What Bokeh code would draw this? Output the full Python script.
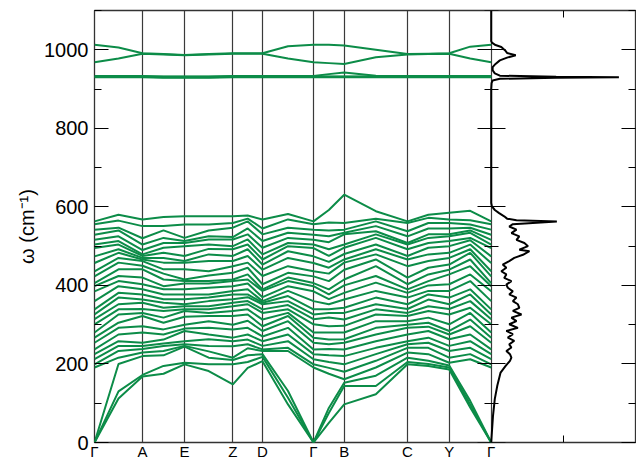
from bokeh.plotting import figure
from bokeh.models import Range1d, LinearAxis, FixedTicker, ColumnDataSource
from bokeh.embed import file_html
from bokeh.resources import INLINE

# ---------------- data ----------------
k_labels = ["Γ", "A", "E", "Z", "D", "Γ", "B", "C", "Y", "Γ"]
k_pos = [0, 48, 90, 138.4, 168, 219, 249.7, 313, 354.7, 396.7]

y_major = [0, 200, 400, 600, 800, 1000]
y_minor = [100, 300, 500, 700, 900, 1100]
y_labels = ["0", "200", "400", "600", "800", "1000"]

# frequencies (cm^-1) of the 30 lower bands at each sample (symmetry point, then mid-segment)
w_G  = [0,0,0,191,199,212,225,237,254,267,280,301,314,326,339,360,385,398,406,423,436,457,474,495,504,516,529,542,556,563]
w_GA = [112,130,200,216,233,246,258,275,292,305,326,339,352,369,381,398,411,424,441,458,470,483,492,504,513,525,540,547,565,580]
w_A  = [168,172,220,229,238,246,254,280,296,322,330,340,356,364,377,390,403,420,441,450,462,466,470,475,479,490,504,520,551,568]
w_AE = [175,195,222,233,246,252,262,275,288,305,318,335,343,356,365,377,390,398,415,430,441,458,470,483,496,508,521,540,551,574]
w_E  = [199,203,244,246,250,258,284,290,300,320,335,339,347,352,365,377,390,405,411,415,441,458,462,475,500,508,513,521,555,576]
w_EZ = [182,199,216,232,246,263,275,292,309,322,330,339,347,360,369,377,394,405,411,425,436,462,479,493,504,517,525,540,555,576]
w_Z  = [148,199,210,216,245,258,267,288,300,322,335,347,356,365,377,386,398,411,415,432,449,462,475,492,500,517,523,547,559,576]
w_ZD = [190,205,222,240,250,262,275,292,310,326,339,352,360,370,377,390,405,415,428,445,458,475,492,504,517,530,545,563,570,578]
w_D  = [207,218,225,233,237,246,258,270,284,296,313,330,339,352,356,360,370,386,390,403,424,440,453,466,479,496,513,530,545,568]
w_DG = [97,114,131,233,241,258,275,292,309,322,330,339,350,360,373,386,398,411,420,432,449,470,487,500,508,521,534,547,568,582]
w_GB = [50,75,88,175,190,205,222,238,250,262,280,296,318,330,339,352,365,377,390,411,430,445,460,475,492,510,525,540,560,592]
w_B  = [97,144,152,161,180,199,220,237,254,263,280,297,313,330,343,364,381,400,415,440,458,466,480,496,504,530,534,542,559,631]
w_BC = [123,144,170,191,208,225,241,258,275,292,309,326,339,352,369,386,407,424,449,466,479,492,504,521,530,538,551,563,570,589]
w_C  = [199,205,216,229,241,250,258,275,292,300,309,322,330,340,352,369,381,390,403,420,449,466,475,492,504,508,525,538,559,563]
w_CY = [195,200,208,225,241,254,267,284,295,305,318,335,347,364,377,386,400,411,428,445,462,479,496,508,521,530,545,559,572,580]
w_Y  = [186,191,196,203,216,233,246,263,275,284,301,326,340,352,369,386,403,428,440,453,470,483,500,513,525,530,545,559,568,585]
w_YG = [89,97,106,212,225,241,258,275,296,313,330,343,360,377,390,411,428,449,466,483,492,504,515,521,534,540,547,555,566,590]

# upper 6 bands
u_G  = [930,931,932,933,968,1013]
u_GA = [930,931,932,933,978,1006]
u_A  = [930,931,932,933,990,991]
u_AE = [929,930,931,932,988,989]
u_E  = [929,930,931,932,986,987]
u_EZ = [929,930,931,932,988,989]
u_Z  = [930,931,932,933,990,991]
u_ZD = [930,931,932,933,990,991]
u_D  = [930,931,932,933,990,991]
u_DG = [930,931,932,933,978,1009]
u_GB = [930,931,932,938,966,1013]
u_B  = [930,931,932,942,964,1011]
u_BC = [930,931,932,934,981,1000]
u_C  = [930,931,932,933,988,989]
u_CY = [930,931,932,933,989,990]
u_Y  = [930,931,932,933,990,991]
u_YG = [930,931,932,933,978,1008]

# phonon density of states
dos_w = [0,68,111,145,178,195,208,216,225,233,242,250,259,267,276,284,292,301,309,318,326,335,343,352,360,
         369,377,385,394,402,411,419,428,436,445,453,462,470,478,487,491,500,508,516,525,533,542,550,556,
         563,566,570,576,584,592,601,610,900,915,922,926,929,930,931,934,940,948,956,964,973,980,986,992,
         999,1007,1012,1018,1022,1100]
dos_v = [0,0.025,0.05,0.085,0.13,0.2,0.26,0.28,0.26,0.21,0.28,0.25,0.32,0.23,0.30,0.21,0.37,0.25,0.35,0.28,
         0.42,0.30,0.39,0.37,0.30,0.35,0.25,0.30,0.23,0.21,0.28,0.18,0.21,0.14,0.21,0.16,0.25,0.32,0.44,0.53,
         0.39,0.51,0.46,0.35,0.39,0.28,0.35,0.25,0.30,0.91,0.35,0.22,0.18,0.11,0.05,0.01,0,0,0.005,0.02,0.12,
         0.9,1.77,0.9,0.12,0.05,0.02,0.02,0.06,0.12,0.22,0.34,0.22,0.19,0.14,0.06,0.01,0,0]
dos_max = 2
dos_tick = [1]

# --------------- assemble ---------------
low_cols = [w_G, w_GA, w_A, w_AE, w_E, w_EZ, w_Z, w_ZD, w_D, w_DG, w_G,
            w_GB, w_B, w_BC, w_C, w_CY, w_Y, w_YG, w_G]
up_cols = [u_G, u_GA, u_A, u_AE, u_E, u_EZ, u_Z, u_ZD, u_D, u_DG, u_G,
           u_GB, u_B, u_BC, u_C, u_CY, u_Y, u_YG, u_G]
sample_x = []
for i in range(len(k_pos) - 1):
    sample_x.append(k_pos[i])
    sample_x.append((k_pos[i] + k_pos[i + 1]) / 2)
sample_x.append(k_pos[-1])

xs, ys = [], []
for cols in (low_cols, up_cols):
    for b in range(len(cols[0])):
        xs.append(sample_x)
        ys.append([c[b] for c in cols])

GREEN = "#0c8c48"
FONT = "Liberation Sans"
FRAME = "#333333"
Y_MAX = 1100

W, H = 636, 462
BL, BR, BT, BB = 94, 1, 10, 18
frame_w = W - BL - BR                 # pixels of the whole frame
k_end = k_pos[-1]                     # band part: 1 unit per pixel
dos_px = frame_w - k_end              # pixels left for the DOS panel
dos_start = -k_end * dos_max / dos_px # DOS range so that 0 sits on the divider

p = figure(width=W, height=H, x_range=Range1d(0, frame_w), y_range=Range1d(0, Y_MAX),
           output_backend="svg", toolbar_location=None,
           x_axis_location="below", y_axis_location="left",
           min_border_left=BL, min_border_right=BR, min_border_top=BT, min_border_bottom=BB)
p.extra_x_ranges = {"dos": Range1d(dos_start, dos_max)}
p.outline_line_color = FRAME
p.outline_line_width = 1.3
p.ygrid.grid_line_color = None
p.xgrid.ticker = FixedTicker(ticks=k_pos)
p.xgrid.grid_line_color = "#3a3a3a"
p.xgrid.grid_line_width = 1.2

# x axis: symmetry-point labels only
xa = p.xaxis[0]
xa.ticker = FixedTicker(ticks=k_pos)
xa.major_label_overrides = {v: s for v, s in zip(k_pos, k_labels)}
xa.major_tick_in = 0
xa.major_tick_out = 0
xa.minor_tick_in = 0
xa.minor_tick_out = 0
xa.axis_line_color = None
xa.major_label_standoff = 0
xa.major_label_text_font = FONT
xa.major_label_text_font_size = "15px"
xa.major_label_text_color = "black"

ya = p.yaxis[0]
ya.ticker = FixedTicker(ticks=y_major, minor_ticks=y_minor)
ya.major_label_overrides = {v: s for v, s in zip(y_major, y_labels)}
ya.major_tick_in = 14
ya.major_tick_out = 0
ya.minor_tick_in = 7
ya.minor_tick_out = 0
ya.major_tick_line_color = "black"
ya.minor_tick_line_color = "black"
ya.axis_line_color = None
ya.major_label_text_font = FONT
ya.major_label_text_font_size = "20px"
ya.major_label_text_color = "black"
ya.major_label_standoff = 6
ya.axis_label = "ω (cm⁻¹)"
ya.axis_label_text_font = FONT
ya.axis_label_text_font_size = "20px"
ya.axis_label_text_font_style = "normal"
ya.axis_label_text_color = "black"
ya.axis_label_standoff = 3


def tick_axis(positions, tin, tout, **kw):
    # label-free axis: every tick is a minor tick of a ticker with no major ticks
    return LinearAxis(ticker=FixedTicker(ticks=[], minor_ticks=positions),
                      minor_tick_in=tin, minor_tick_out=tout, major_tick_in=0, major_tick_out=0,
                      axis_line_color=None, minor_tick_line_color="black", **kw)


# right edge of DOS panel
p.add_layout(tick_axis(y_major, 14, 0), "right")
p.add_layout(tick_axis(y_minor, 7, 0), "right")
# divider between band structure and DOS: ticks on both sides
p.add_layout(tick_axis(y_major, 14, 14, fixed_location=k_end), "left")
p.add_layout(tick_axis(y_minor, 7, 7, fixed_location=k_end), "left")
# DOS top/bottom tick, drawn on the frame edges
p.add_layout(tick_axis(dos_tick, 7, 0, x_range_name="dos", fixed_location=Y_MAX), "above")
p.add_layout(tick_axis(dos_tick, 7, 0, x_range_name="dos", fixed_location=0), "below")

src = ColumnDataSource(dict(xs=xs, ys=ys))
p.multi_line("xs", "ys", source=src, line_color=GREEN, line_width=2)

p.line(dos_v, dos_w, line_color="black", line_width=2, x_range_name="dos")

open("out.html", "w").write(file_html(p, INLINE))
